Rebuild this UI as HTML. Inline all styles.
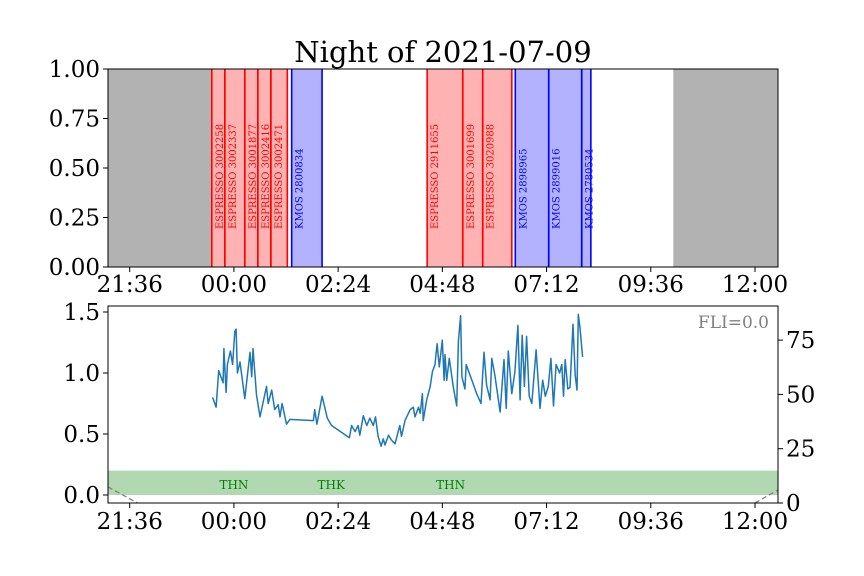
<!DOCTYPE html>
<html><head><meta charset="utf-8"><style>
html,body{margin:0;padding:0;background:#fff;}
svg{display:block;font-family:"DejaVu Serif","Liberation Serif",serif;}
</style></head><body>
<svg id="c" width="864" height="576" viewBox="0 0 864 576" xmlns="http://www.w3.org/2000/svg"></svg>
<script>
// ---- data (hours relative to local midnight) ----
const xTickLabels = ["21:36","00:00","02:24","04:48","07:12","09:36","12:00"];
const xTickHours = [-2.4,0,2.4,4.8,7.2,9.6,12.0];
const twilightBlocks = [[-2.9,-0.51],[10.12,12.53]];
const espressoStart = [-0.51,-0.21,0.25,0.55,0.85,4.45,5.27,5.73];
const espressoEnd = [-0.21,0.25,0.55,0.85,1.23,5.27,5.73,6.40];
const espressoLabels = ["ESPRESSO 3002258","ESPRESSO 3002337","ESPRESSO 3001877","ESPRESSO 3002416","ESPRESSO 3002471","ESPRESSO 2911655","ESPRESSO 3001699","ESPRESSO 3020988"];
const kmosStart = [1.33,6.48,7.25,8.01];
const kmosEnd = [2.03,7.25,8.01,8.22];
const kmosLabels = ["KMOS 2800834","KMOS 2898965","KMOS 2899016","KMOS 2780534"];
const topYTicks = [0,0.25,0.5,0.75,1.0];
const seeingT = [-0.49,-0.41,-0.35,-0.25,-0.23,-0.18,-0.15,-0.08,-0.03,0.02,0.05,0.08,0.14,0.25,0.37,0.41,0.44,0.52,0.60,0.75,0.79,0.87,0.94,1.02,1.06,1.11,1.21,1.29,1.83,1.86,1.91,2.03,2.15,2.25,2.66,2.71,2.79,2.86,2.90,2.98,3.06,3.13,3.21,3.26,3.32,3.39,3.44,3.48,3.56,3.63,3.71,3.82,3.86,3.94,4.06,4.13,4.17,4.25,4.29,4.34,4.36,4.44,4.52,4.57,4.63,4.68,4.73,4.80,4.84,4.86,4.90,4.96,5.05,5.13,5.17,5.22,5.25,5.32,5.35,5.59,5.69,5.76,5.82,5.90,5.94,6.01,6.13,6.22,6.27,6.32,6.40,6.47,6.54,6.59,6.64,6.69,6.74,6.80,6.86,6.96,7.05,7.11,7.17,7.24,7.30,7.36,7.42,7.50,7.55,7.59,7.63,7.69,7.74,7.81,7.86,7.90,7.93,7.97,8.03];
const seeingV = [0.80,0.72,1.02,0.92,1.20,0.84,1.07,1.18,1.07,1.34,1.36,1.00,1.09,0.79,1.17,0.97,1.20,0.82,0.64,0.89,0.75,0.86,0.70,0.74,0.64,0.75,0.58,0.62,0.61,0.70,0.58,0.81,0.63,0.57,0.47,0.57,0.52,0.57,0.49,0.65,0.57,0.63,0.57,0.64,0.48,0.40,0.46,0.41,0.49,0.45,0.42,0.57,0.48,0.61,0.70,0.72,0.64,0.72,0.67,0.83,0.61,0.78,0.89,1.01,1.07,1.24,1.05,1.27,0.94,1.15,0.94,1.12,0.89,0.73,1.26,1.47,0.97,0.87,1.07,0.83,0.75,1.17,0.90,0.78,1.12,0.98,0.68,1.11,0.71,1.18,0.83,1.01,1.39,0.78,1.31,0.89,1.30,0.81,0.75,1.19,0.71,0.94,0.81,0.89,1.12,0.73,1.07,1.00,1.07,0.81,1.11,0.87,0.88,1.40,0.98,0.86,1.48,1.37,1.13];
const bottomYTicks = [0.0,0.5,1.0,1.5];
const rightYTicks = [0,25,50,75];
const moonT = [[-2.9,-2.22],[12.0,12.53]];
const moonV = [[7.4,0],[0,6]];
const condT = [0.0,2.24,4.99];
const condLabels = ["THN","THK","THN"];

// ---- axes ----
const X0=108,X1=778,H0=-2.9,H1=12.53;
const x = h => X0+(h-H0)/(H1-H0)*(X1-X0);
const TY0=267,TY1=69; const ty = v => TY0-(TY0-TY1)*v;
const by = v => 495-122*v;
const ry = v => 503-v*54.3/25;
const NS="http://www.w3.org/2000/svg";
const svg=document.getElementById('c');
function el(tag,attrs,parent){const e=document.createElementNS(NS,tag);for(const k in attrs)e.setAttribute(k,attrs[k]);(parent||svg).appendChild(e);return e;}

// title
const ttl=el('text',{x:443,y:62,'font-size':29,'text-anchor':'middle'});ttl.textContent="Night of 2021-07-09";



// ---- top panel ----
const topG=el('g',{});


twilightBlocks.forEach(b=>{const r=el('rect',{x:x(b[0]),y:TY1,width:x(b[1])-x(b[0]),height:TY0-TY1,fill:'#b2b2b2'},topG);

});
function blocks(S,E,L,fill,stroke){
  S.forEach((s,i)=>{
    const r=el('rect',{x:x(s),y:TY1,width:x(E[i])-x(s),height:TY0-TY1,fill:fill},topG);
    
    
  });
  S.forEach((s,i)=>{
    [s,E[i]].forEach(h=>{const l=el('line',{x1:x(h),x2:x(h),y1:TY1,y2:TY0,stroke:stroke,'stroke-width':1.6},topG);
    
    });
    const tx=x(s)+11;
    const lt=el('text',{x:0,y:0,transform:`translate(${tx},229) rotate(-90)`,'font-size':10,fill:stroke},topG);
    lt.textContent=L[i];
    
    
  });
}
blocks(espressoStart,espressoEnd,espressoLabels,'#ffb2b2','#ff0000');
blocks(kmosStart,kmosEnd,kmosLabels,'#b2b2ff','#0000ff');
el('rect',{x:X0,y:TY1,width:X1-X0,height:TY0-TY1,fill:'none',stroke:'#000','stroke-width':1},topG);
topYTicks.forEach(v=>{el('line',{x1:X0-5,x2:X0,y1:ty(v),y2:ty(v),stroke:'#000'},topG);
 const tt=el('text',{x:100,y:ty(v)+8,'font-size':23,'text-anchor':'end'},topG);tt.textContent=v.toFixed(2);
 
 });
xTickHours.forEach((h,i)=>{el('line',{x1:x(h),x2:x(h),y1:TY0,y2:TY0+5,stroke:'#000'},topG);
 const tt=el('text',{x:x(h),y:TY0+25,'font-size':23,'text-anchor':'middle'},topG);tt.textContent=xTickLabels[i];
 
 });

// ---- bottom panel ----
const BY0=503,BY1=306;
const bot=el('g',{});


const band=el('rect',{x:X0,y:by(0.2),width:X1-X0,height:by(0)-by(0.2),fill:'#b2d8b2'},bot);


condT.forEach((h,i)=>{const ct=el('text',{x:x(h),y:489,'font-size':12,'text-anchor':'middle',fill:'#008000'},bot);ct.textContent=condLabels[i];
 
 });
moonT.forEach((seg,i)=>{const l=el('line',{x1:x(seg[0]),y1:ry(moonV[i][0]),x2:x(seg[1]),y2:ry(moonV[i][1]),stroke:'#808080','stroke-dasharray':'5,3','stroke-width':1.3},bot);
 
 });
const pts=seeingT.map((h,i)=>x(h).toFixed(1)+','+by(seeingV[i]).toFixed(1)).join(' ');
const pl=el('polyline',{points:pts,fill:'none',stroke:'#1f77b4','stroke-width':1.5,'stroke-linejoin':'round'},bot);


el('rect',{x:X0,y:BY1,width:X1-X0,height:BY0-BY1,fill:'none',stroke:'#000','stroke-width':1},bot);
bottomYTicks.forEach(v=>{el('line',{x1:X0-5,x2:X0,y1:by(v),y2:by(v),stroke:'#000'},bot);
 const tt=el('text',{x:100,y:by(v)+8,'font-size':23,'text-anchor':'end'},bot);tt.textContent=v.toFixed(1);
 
 });
rightYTicks.forEach(v=>{el('line',{x1:X1,x2:X1+5,y1:ry(v),y2:ry(v),stroke:'#000'},bot);
 const tt=el('text',{x:786,y:ry(v)+8,'font-size':23},bot);tt.textContent=v;
 
 });
xTickHours.forEach((h,i)=>{el('line',{x1:x(h),x2:x(h),y1:BY0,y2:BY0+5,stroke:'#000'},bot);
 const tt=el('text',{x:x(h),y:BY0+26,'font-size':23,'text-anchor':'middle'},bot);tt.textContent=xTickLabels[i];
 
 });
const fli=el('text',{x:769,y:328,'font-size':17,'text-anchor':'end',fill:'#808080'},bot);fli.textContent="FLI=0.0";


</script>
</body></html>
